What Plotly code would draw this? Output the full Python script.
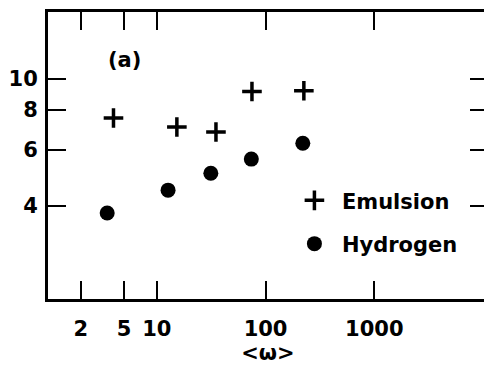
import plotly.graph_objects as go

# Data
emulsion_w = [4.0, 15.3, 35, 75, 225]
emulsion_n = [7.53, 7.06, 6.81, 9.11, 9.16]
hydrogen_w = [3.5, 12.7, 31.4, 74, 220]
hydrogen_n = [3.80, 4.48, 5.06, 5.60, 6.28]

x_ticks = [2, 5, 10, 100, 1000]
x_tick_text = ["2", "5", "10", "100", "1000"]
y_ticks = [4, 6, 8, 10]
y_tick_text = ["4", "6", "8", "10"]

font_family = "DejaVu Sans, sans-serif"

fig = go.Figure()
fig.add_trace(go.Scatter(
    x=emulsion_w, y=emulsion_n, mode="markers", name="Emulsion",
    legendgroup="a",
    marker=dict(symbol="cross-thin", size=14, color="black",
                line=dict(color="black", width=3.5)),
))
fig.add_trace(go.Scatter(
    x=hydrogen_w, y=hydrogen_n, mode="markers", name="Hydrogen",
    legendgroup="b",
    marker=dict(symbol="circle", size=15, color="black"),
))

axis_common = dict(
    showline=True, linecolor="black", linewidth=3, mirror="ticks",
    ticks="inside", ticklen=18, tickwidth=2, tickcolor="black",
    showgrid=False, zeroline=False,
    tickfont=dict(family=font_family, size=21, color="black", weight="bold"),
)

fig.update_xaxes(type="log", range=[0, 4.045], tickvals=x_ticks,
                 ticktext=x_tick_text, ticklabelstandoff=9,
                 title=dict(text="&lt;ω&gt;",
                            font=dict(family=font_family, size=21, color="black", weight="bold"),
                            standoff=6),
                 **axis_common)
fig.update_yaxes(type="log", range=[0.311, 1.208], tickvals=y_ticks,
                 ticktext=y_tick_text, ticklabelstandoff=3, **axis_common)

fig.add_annotation(text="(a)", xref="paper", yref="paper", x=0.173, y=0.834,
                   xanchor="center", yanchor="middle",
                   showarrow=False,
                   font=dict(family=font_family, size=21, color="black", weight="bold"))

fig.update_layout(
    width=484, height=362,
    margin=dict(l=38, r=1, t=2, b=71),
    plot_bgcolor="white", paper_bgcolor="white",
    showlegend=True,
    legend=dict(x=0.543, y=0.414, xanchor="left", yanchor="top",
                bgcolor="rgba(0,0,0,0)", traceorder="grouped",
                tracegroupgap=13, itemwidth=45,
                font=dict(family=font_family, size=21, color="black", weight="bold")),
)

fig.write_html("out.html")
